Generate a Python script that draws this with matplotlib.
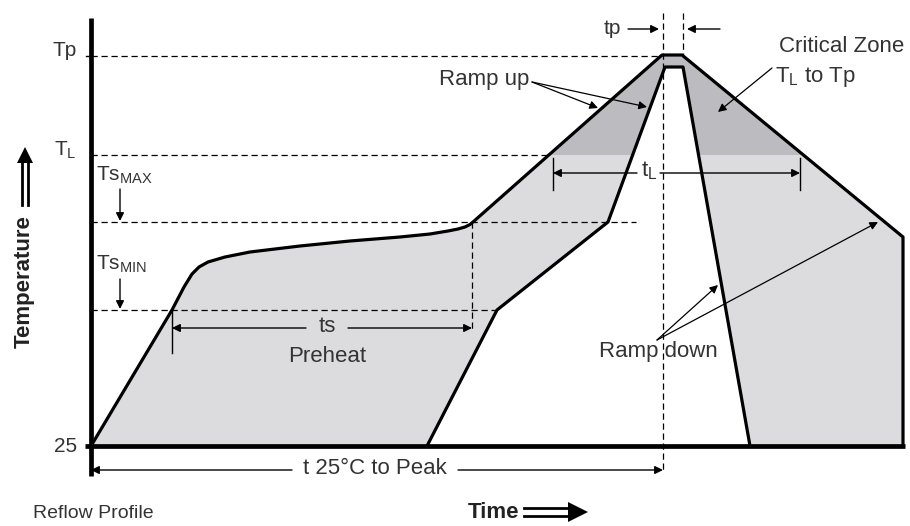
"""
Reflow profile schematic (temperature vs. time).
Diagram units: time runs left -> right, temperature runs top -> bottom
(image-like), so the y axis is inverted.
"""

import matplotlib.pyplot as plt

plt.rcParams["font.family"] = ["Liberation Sans", "DejaVu Sans"]
plt.rcParams["mathtext.fontset"] = "custom"
plt.rcParams["mathtext.rm"] = "Liberation Sans"
plt.rcParams["mathtext.it"] = "Liberation Sans"

# ---- profile curves --------------------------------------------------------
outer_time = [91, 172, 184, 192, 199, 208, 225, 250, 300, 350, 400, 430, 448, 458,
              465, 470, 473, 662, 682, 903, 903]
outer_temp = [446, 310, 287, 274, 267, 262, 257, 252, 246, 241, 237, 234, 231, 229,
              227, 224.5, 222, 55, 55, 237, 446]
inner_time = [427, 497, 608, 665, 683, 750]
inner_temp = [446, 310, 222, 67, 67, 446]

# ---- reference levels ------------------------------------------------------
axis_time = 91
end_time = 905
base_temp = 446
axis_top = 18
level_names = ["Tp", r"T$_{\mathrm{L}}$", "25"]
level_temp = [50, 150, 446]
dash_temp = [56, 155, 222, 310]
dash_end = [662, 548, 636, 497]
TL_temp = 155

# ---- time markers ----------------------------------------------------------
peak_time = 663
tp_end = 683
soak_start, soak_end = 172, 472
tl_start, tl_end = 553, 800

LIGHT = "#dcdcdf"
DARK = "#bcbcc0"
TXT = "#333333"

fig = plt.figure(figsize=(9.1, 5.26), dpi=100)
ax = fig.add_axes([0, 0, 1, 1])
ax.set_xlim(0, 910)
ax.set_ylim(526, 0)
ax.axis("off")

# fill between outer and inner profile
poly_x = outer_time + inner_time[::-1]
poly_y = outer_temp + inner_temp[::-1]
ax.fill(poly_x, poly_y, color=LIGHT, lw=0, zorder=1)
dark = ax.fill(poly_x, poly_y, color=DARK, lw=0, zorder=1)[0]
clip = plt.Rectangle((0, 0), 910, TL_temp, transform=ax.transData)
dark.set_clip_path(clip)

# profile outlines
ax.plot(outer_time, outer_temp, color="k", lw=2.3, zorder=3)
ax.plot(inner_time, inner_temp, color="k", lw=2.3, zorder=3)

# axes
ax.plot([axis_time, axis_time], [axis_top, 476], color="k", lw=3.4, zorder=4,
        solid_capstyle="butt")
ax.plot([85, end_time], [base_temp, base_temp], color="k", lw=3.4, zorder=4,
        solid_capstyle="butt")
ax.plot([86, axis_time], [56, 56], color="k", lw=1)

# dashed guides
dash = dict(color="k", lw=0.9, ls=(0, (5, 3)), zorder=2)
for y, xe in zip(dash_temp, dash_end):
    ax.plot([axis_time, xe], [y, y], **dash)
ax.plot([peak_time, peak_time], [13, 470], **dash)
ax.plot([tp_end, tp_end], [13, 55], **dash)
ax.plot([soak_end, soak_end], [222, 332], **dash)

# level labels
for name, y in zip(level_names, level_temp):
    ax.text(77, y, name, ha="right", va="center", fontsize=15, color=TXT)


def arrow(x0, y0, x1, y1, lw=1.0):
    ax.annotate("", xy=(x1, y1), xytext=(x0, y0), zorder=5,
                arrowprops=dict(arrowstyle="-|>", lw=lw, color="k",
                                mutation_scale=12, shrinkA=0, shrinkB=0))


# Ts max / min
ax.text(96, 175, r"Ts$_{\mathrm{MAX}}$", ha="left", va="center", fontsize=15, color=TXT)
arrow(120, 189, 120, 221)
ax.text(96, 264, r"Ts$_{\mathrm{MIN}}$", ha="left", va="center", fontsize=15, color=TXT)
arrow(120, 279, 120, 309)

# ts / Preheat
ax.plot([soak_start, soak_start], [310, 353], color="k", lw=1)
arrow(306, 328, soak_start, 328)
arrow(348, 328, soak_end, 328)
ax.text(327, 326, "ts", ha="center", va="center", fontsize=16, color=TXT)
ax.text(327, 357, "Preheat", ha="center", va="center", fontsize=16, color=TXT)

# tL
ax.plot([tl_start, tl_start], [158, 190], color="k", lw=1)
ax.plot([tl_end, tl_end], [158, 190], color="k", lw=1)
arrow(637, 173, tl_start, 173)
arrow(660, 173, tl_end, 173)
ax.text(649, 171, r"t$_{\mathrm{L}}$", ha="center", va="center", fontsize=16, color=TXT)

# tp
ax.text(612, 28, "tp", ha="center", va="center", fontsize=15, color=TXT)
arrow(628, 29, 659, 29)
arrow(720, 29, 687, 29)

# t 25C to peak
arrow(292, 470, axis_time, 470)
arrow(458, 470, peak_time, 470)
ax.text(375, 468, "t 25°C to Peak", ha="center", va="center", fontsize=16, color=TXT)

# ramp up
ax.text(484, 80, "Ramp up", ha="center", va="center", fontsize=16, color=TXT)
arrow(532, 82, 598, 108, lw=0.9)
arrow(532, 82, 647, 107, lw=0.9)

# critical zone
ax.text(842, 47, "Critical Zone", ha="center", va="center", fontsize=16, color=TXT)
ax.text(815, 77, r"T$_{\mathrm{L}}$ to Tp", ha="center", va="center", fontsize=16,
        color=TXT)
arrow(772, 68, 718, 112, lw=0.9)

# ramp down
ax.text(658, 352, "Ramp down", ha="center", va="center", fontsize=16, color=TXT)
arrow(657, 340, 718, 285, lw=0.9)
arrow(657, 340, 878, 222, lw=0.9)

# axis titles with double arrows
ax.text(24, 282, "Temperature", rotation=90, ha="center", va="center",
        fontsize=16, fontweight="bold", color="#222222")
ax.plot([22, 22], [205, 160], color="k", lw=2)
ax.plot([28, 28], [205, 160], color="k", lw=2)
ax.fill([17, 25, 33], [163, 147, 163], color="k", lw=0)

ax.text(494, 512, "Time", ha="center", va="center", fontsize=16,
        fontweight="bold", color="#222222")
ax.plot([524, 572], [508, 508], color="k", lw=2)
ax.plot([524, 572], [516, 516], color="k", lw=2)
ax.fill([568, 588, 568], [502, 512, 522], color="k", lw=0)

ax.text(33, 513, "Reflow Profile", ha="left", va="center", fontsize=14, color=TXT)

fig.savefig("out.png", dpi=100)
